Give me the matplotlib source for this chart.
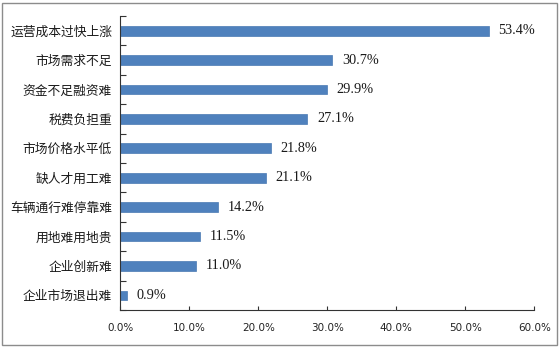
import matplotlib
matplotlib.use("Agg")
import matplotlib.pyplot as plt
from matplotlib.patches import Rectangle

plt.rcParams['font.family'] = ['Noto Sans CJK SC', 'DejaVu Sans']

categories = ["运营成本过快上涨", "市场需求不足", "资金不足融资难", "税费负担重",
              "市场价格水平低", "缺人才用工难", "车辆通行难停靠难", "用地难用地贵",
              "企业创新难", "企业市场退出难"]
values = [53.4, 30.7, 29.9, 27.1, 21.8, 21.1, 14.2, 11.5, 11.0, 0.9]
xticks = [0, 10, 20, 30, 40, 50, 60]
xtick_labels = ["0.0%", "10.0%", "20.0%", "30.0%", "40.0%", "50.0%", "60.0%"]

fig = plt.figure(figsize=(5.6, 3.48), dpi=100)
fig.patch.set_facecolor("white")
fig.add_artist(Rectangle((0.004, 0.009), 0.990, 0.983, transform=fig.transFigure,
                         fill=False, edgecolor="#8c8c8c", linewidth=1.0))

ax = fig.add_axes([0.215, 0.109, 0.739, 0.845])
y = list(range(len(categories)))
ax.barh(y, values, height=0.33, color="#4f81bd", edgecolor="#4a7ab3", linewidth=0.5)
for yi, v in zip(y, values):
    ax.text(v + 1.4, yi, f"{v:.1f}%", va="center", ha="left",
            fontsize=10.3, family="Liberation Serif", color="#1a1a1a")

ax.set_xlim(0, 60)
ax.set_ylim(len(categories) - 0.5, -0.5)
ax.set_xticks(xticks)
ax.set_xticklabels(xtick_labels, fontsize=7.5, family="DejaVu Sans", color="#222222")
ax.set_yticks([i - 0.5 for i in range(len(categories) + 1)], minor=False)
ax.set_yticklabels([])
ax.set_yticks(y, minor=True)
ax.set_yticklabels(categories, minor=True, fontsize=9.2, color="#1a1a1a")
ax.tick_params(axis="y", which="major", direction="in", length=4, width=0.8, color="#333333")
ax.tick_params(axis="y", which="minor", length=0, pad=6)
ax.tick_params(axis="x", direction="in", length=3, width=0.8, color="#333333", pad=9)
for s in ["top", "right"]:
    ax.spines[s].set_visible(False)
for s in ["left", "bottom"]:
    ax.spines[s].set_color("#333333")
    ax.spines[s].set_linewidth(0.8)

fig.savefig("out.png", dpi=100)
